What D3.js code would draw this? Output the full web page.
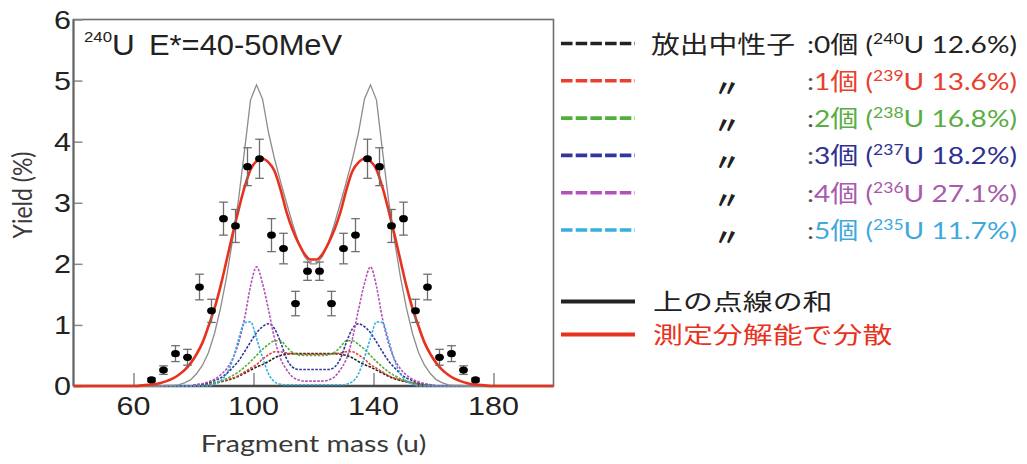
<!DOCTYPE html>
<html>
<head>
<meta charset="utf-8">
<script src="https://cdn.jsdelivr.net/npm/d3@7"></script>
<style>
  body { margin: 0; background: #fff; }
  svg { display: block; }
</style>
</head>
<body>
<div id="chart"></div>
<script>
/* Data */

// mass grid for the model curves (u)
var curveMass = [40,
    61, 63, 65, 67, 69, 71, 73, 75, 77, 79, 81, 83, 85, 87, 89, 91, 93, 95, 97, 99,
    101, 103, 105, 107, 109, 111, 113, 115, 117, 119, 121, 123, 125, 127, 129, 131, 133, 135, 137, 139,
    141, 143, 145, 147, 149, 151, 153, 155, 157, 159, 161, 163, 165, 167, 169, 171, 173, 175, 177, 179,
    200];

// emitted neutrons 0..5 (dotted curves)
var yield0n = [0,
    0, 0, 0, 0, 0, 0, 0, 0, 0, 0, 0.01, 0.02, 0.03, 0.05, 0.07, 0.09, 0.12, 0.16, 0.21, 0.26,
    0.31, 0.35, 0.4, 0.46, 0.5, 0.52, 0.53, 0.53, 0.53, 0.53, 0.53, 0.53, 0.53, 0.53, 0.52, 0.5, 0.46, 0.4, 0.35, 0.31,
    0.26, 0.21, 0.16, 0.12, 0.09, 0.07, 0.05, 0.03, 0.02, 0.01, 0, 0, 0, 0, 0, 0, 0, 0, 0, 0,
    0];
var yield1n = [0,
    0, 0, 0, 0, 0, 0, 0, 0, 0, 0, 0.01, 0.02, 0.03, 0.05, 0.07, 0.1, 0.13, 0.17, 0.23, 0.29,
    0.35, 0.44, 0.51, 0.56, 0.56, 0.54, 0.53, 0.52, 0.52, 0.52, 0.52, 0.52, 0.52, 0.53, 0.54, 0.56, 0.56, 0.51, 0.44, 0.35,
    0.29, 0.23, 0.17, 0.13, 0.1, 0.07, 0.05, 0.03, 0.02, 0.01, 0, 0, 0, 0, 0, 0, 0, 0, 0, 0,
    0];
var yield2n = [0,
    0, 0, 0, 0, 0, 0, 0, 0, 0, 0, 0.01, 0.02, 0.04, 0.06, 0.08, 0.12, 0.17, 0.23, 0.31, 0.4,
    0.5, 0.6, 0.68, 0.74, 0.74, 0.64, 0.55, 0.51, 0.5, 0.5, 0.5, 0.5, 0.51, 0.55, 0.64, 0.74, 0.74, 0.68, 0.6, 0.5,
    0.4, 0.31, 0.23, 0.17, 0.12, 0.08, 0.06, 0.04, 0.02, 0.01, 0, 0, 0, 0, 0, 0, 0, 0, 0, 0,
    0];
var yield3n = [0,
    0, 0, 0, 0, 0, 0, 0, 0, 0, 0, 0.02, 0.03, 0.05, 0.09, 0.13, 0.2, 0.3, 0.41, 0.56, 0.72,
    0.87, 0.97, 1.02, 0.94, 0.72, 0.45, 0.31, 0.27, 0.27, 0.27, 0.27, 0.27, 0.27, 0.31, 0.45, 0.72, 0.94, 1.02, 0.97, 0.87,
    0.72, 0.56, 0.41, 0.3, 0.2, 0.13, 0.09, 0.05, 0.03, 0.02, 0, 0, 0, 0, 0, 0, 0, 0, 0, 0,
    0];
var yield4n = [0,
    0, 0, 0, 0, 0, 0, 0, 0, 0, 0, 0.02, 0.04, 0.07, 0.11, 0.18, 0.28, 0.44, 0.7, 1.1, 1.63,
    1.95, 1.68, 1.25, 0.78, 0.45, 0.27, 0.15, 0.1, 0.08, 0.08, 0.08, 0.08, 0.1, 0.15, 0.27, 0.45, 0.78, 1.25, 1.68, 1.95,
    1.63, 1.1, 0.7, 0.44, 0.28, 0.18, 0.11, 0.07, 0.04, 0.02, 0, 0, 0, 0, 0, 0, 0, 0, 0, 0,
    0];
var yield5n = [0,
    0, 0, 0, 0, 0, 0, 0, 0, 0, 0, 0, 0, 0, 0.03, 0.08, 0.2, 0.42, 0.76, 1.04, 1.05,
    0.78, 0.47, 0.2, 0.07, 0.03, 0.02, 0.02, 0.02, 0.02, 0.02, 0.02, 0.02, 0.02, 0.02, 0.02, 0.03, 0.07, 0.2, 0.47, 0.78,
    1.05, 1.04, 0.76, 0.42, 0.2, 0.08, 0.03, 0, 0, 0, 0, 0, 0, 0, 0, 0, 0, 0, 0, 0,
    0];

// sum of the dotted curves, and the same sum smeared by the resolution
var yieldSum = [0,
    0, 0, 0, 0, 0, 0.01, 0.01, 0.02, 0.05, 0.1, 0.2, 0.34, 0.55, 0.86, 1.27, 1.78, 2.38, 3.05, 3.85, 4.68,
    4.93, 4.7, 4.15, 3.72, 3.35, 3.0, 2.66, 2.35, 2.12, 2.0, 2.0, 2.12, 2.35, 2.66, 3.0, 3.35, 3.72, 4.15, 4.7, 4.93,
    4.68, 3.85, 3.05, 2.38, 1.78, 1.27, 0.86, 0.55, 0.34, 0.2, 0.1, 0.05, 0.02, 0.01, 0.01, 0, 0, 0, 0, 0,
    0];
var yieldSmeared = [0,
    0, 0.01, 0.02, 0.03, 0.05, 0.08, 0.12, 0.18, 0.26, 0.37, 0.52, 0.71, 0.98, 1.27, 1.63, 2.05, 2.48, 2.88, 3.25, 3.54,
    3.68, 3.72, 3.66, 3.52, 3.22, 2.85, 2.56, 2.34, 2.16, 2.07, 2.07, 2.16, 2.34, 2.56, 2.85, 3.22, 3.52, 3.66, 3.72, 3.68,
    3.54, 3.25, 2.88, 2.48, 2.05, 1.63, 1.27, 0.98, 0.71, 0.52, 0.37, 0.26, 0.18, 0.12, 0.08, 0.05, 0.03, 0.02, 0.01, 0,
    0];

// measured points
var pointMass  = [66, 70, 74, 78, 82, 86, 90, 94, 98, 102, 106, 110, 114, 118,
                  122, 126, 130, 134, 138, 142, 146, 150, 154, 158, 162, 166, 170, 174];
var pointYield = [0.10, 0.26, 0.53, 0.47, 1.62, 1.23, 2.74, 2.62, 3.59, 3.72, 2.47, 2.25, 1.35, 1.88,
                  1.88, 1.35, 2.25, 2.47, 3.72, 3.59, 2.62, 2.74, 1.23, 1.62, 0.47, 0.53, 0.26, 0.10];
var pointError = [0.03, 0.07, 0.13, 0.13, 0.21, 0.19, 0.27, 0.27, 0.31, 0.32, 0.27, 0.25, 0.2, 0.15,
                  0.15, 0.2, 0.25, 0.27, 0.32, 0.31, 0.27, 0.27, 0.19, 0.21, 0.13, 0.13, 0.07, 0.03];

// axes
var xTicks = [60, 100, 140, 180];
var yTicks = [0, 1, 2, 3, 4, 5, 6];

// legend
var neutronCounts = ["0", "1", "2", "3", "4", "5"];
var isotopeMass   = ["240", "239", "238", "237", "236", "235"];
var isotopeShare  = ["12.6%", "13.6%", "16.8%", "18.2%", "27.1%", "11.7%"];

/* Styles */
var curveColors  = ["#222222", "#e8402c", "#4fb03a", "#33379c", "#b451b8", "#36aee0"];
var legendColors = ["#222222", "#e8402c", "#58ad44", "#2e3192", "#a95aab", "#3fa9dc"];
var redLine  = "#e8321e";
var grayLine = "#8c8c8c";

var width = 1027, height = 464;
var svg = d3.select("#chart").append("svg")
    .attr("width", width)
    .attr("height", height)
    .attr("viewBox", "0 0 " + width + " " + height);

var x = d3.scaleLinear().domain([40, 200]).range([73.5, 553.5]);
var y = d3.scaleLinear().domain([0, 6]).range([386, 19.5]);

// text with a horizontal stretch (the figure is widened)
function stretchText(parent, px, py, sx, str) {
    return parent.append("text")
        .attr("transform", "translate(" + px + "," + py + ") scale(" + sx + ",1)")
        .text(str);
}

/* Plot frame & ticks */
var plot = svg.append("g");

plot.append("rect")
    .attr("x", x(40)).attr("y", y(6))
    .attr("width", x(200) - x(40)).attr("height", y(0) - y(6))
    .attr("fill", "none").attr("stroke", "#6e6e6e").attr("stroke-width", 1.6);

var xAxis = plot.append("g")
    .attr("transform", "translate(0," + y(0) + ")")
    .call(d3.axisBottom(x).tickValues(xTicks).tickSize(-13).tickFormat(""));
xAxis.select(".domain").remove();
xAxis.selectAll(".tick line").attr("stroke", "#8a8a8a").attr("stroke-width", 1.5);

var yAxis = plot.append("g")
    .attr("transform", "translate(" + x(40) + ",0)")
    .call(d3.axisLeft(y).tickValues(yTicks).tickSize(-9).tickFormat(""));
yAxis.select(".domain").remove();
yAxis.selectAll(".tick line").attr("stroke", "#8a8a8a").attr("stroke-width", 1.5);

plot.append("line")
    .attr("x1", x(40)).attr("x2", x(200)).attr("y1", y(0)).attr("y2", y(0))
    .attr("stroke", "#4a4a4a").attr("stroke-width", 2.4);
plot.append("line")
    .attr("x1", x(40)).attr("x2", x(40)).attr("y1", y(0)).attr("y2", y(6))
    .attr("stroke", "#666").attr("stroke-width", 2);

// tick labels
xTicks.forEach(function (t) {
    stretchText(plot, x(t), 415, 1.22, t)
        .attr("text-anchor", "middle")
        .attr("font-family", "Liberation Sans, Arial, sans-serif")
        .attr("font-size", 25).attr("fill", "#222");
});
yTicks.forEach(function (t) {
    stretchText(plot, 71, y(t) + 9, 1.22, t)
        .attr("text-anchor", "end")
        .attr("font-family", "Liberation Sans, Arial, sans-serif")
        .attr("font-size", 25).attr("fill", "#222");
});

// axis titles
stretchText(svg, x(120), 452, 1.24, "Fragment mass (u)")
    .attr("text-anchor", "middle")
    .attr("font-family", "Lato, Noto Sans, sans-serif")
    .attr("font-size", 23).attr("fill", "#3a3a3a");
svg.append("text")
    .attr("transform", "translate(32,195) scale(1.2,1) rotate(-90)")
    .attr("text-anchor", "middle")
    .attr("font-family", "Lato, Noto Sans, sans-serif")
    .attr("font-size", 23).attr("fill", "#3a3a3a")
    .text("Yield (%)");

// annotation
stretchText(svg, 84, 42, 1.12, "240")
    .attr("font-family", "Liberation Sans, Arial, sans-serif")
    .attr("font-size", 15).attr("fill", "#222");
stretchText(svg, 112, 55, 1.05, "U")
    .attr("font-family", "Liberation Sans, Arial, sans-serif")
    .attr("font-size", 30).attr("fill", "#222");
stretchText(svg, 149, 55, 1.03, "E*=40-50MeV")
    .attr("font-family", "Liberation Sans, Arial, sans-serif")
    .attr("font-size", 30).attr("fill", "#222");

/* Curves */
var neutronSeries = [yield0n, yield1n, yield2n, yield3n, yield4n, yield5n];

var smooth = d3.line()
    .x(function (d) { return x(d[0]); })
    .y(function (d) { return y(d[1]); })
    .curve(d3.curveMonotoneX);
var straight = d3.line()
    .x(function (d) { return x(d[0]); })
    .y(function (d) { return y(d[1]); });

function pairs(values) {
    return curveMass.map(function (m, i) { return [m, values[i]]; });
}

var curves = svg.append("g").attr("fill", "none");

neutronSeries.forEach(function (series, i) {
    curves.append("path")
        .attr("d", smooth(pairs(series)))
        .attr("stroke", curveColors[i])
        .attr("stroke-width", 1.6)
        .attr("stroke-dasharray", "2.6,1.4");
});

curves.append("path")
    .attr("d", straight(pairs(yieldSum)))
    .attr("stroke", grayLine)
    .attr("stroke-width", 1.3);

curves.append("path")
    .attr("d", smooth(pairs(yieldSmeared)))
    .attr("stroke", redLine)
    .attr("stroke-width", 2.6);

/* Measured points */
var points = svg.append("g");
pointMass.forEach(function (m, i) {
    var cx = x(m), v = pointYield[i], e = pointError[i];
    var bar = points.append("g").attr("stroke", "#6f6f6f").attr("stroke-width", 1.3);
    bar.append("line").attr("x1", cx).attr("x2", cx).attr("y1", y(v - e)).attr("y2", y(v + e));
    bar.append("line").attr("x1", cx - 4.3).attr("x2", cx + 4.3).attr("y1", y(v - e)).attr("y2", y(v - e));
    bar.append("line").attr("x1", cx - 4.3).attr("x2", cx + 4.3).attr("y1", y(v + e)).attr("y2", y(v + e));
    points.append("ellipse")
        .attr("cx", cx).attr("cy", y(v))
        .attr("rx", 4.4).attr("ry", 3.6)
        .attr("fill", "#000");
});

/* Legend */
var legend = svg.append("g");
var rowY0 = 43.5, rowStep = 37.3;

neutronCounts.forEach(function (n, i) {
    var cy = rowY0 + i * rowStep;
    legend.append("line")
        .attr("x1", 561).attr("x2", 635).attr("y1", cy).attr("y2", cy)
        .attr("stroke", curveColors[i]).attr("stroke-width", 3.6)
        .attr("stroke-dasharray", "11.5,3.2");

    if (i === 0) {
        stretchText(legend, 651, cy + 9, 1.2, "放出中性子")
            .attr("font-family", "Noto Sans CJK JP, sans-serif")
            .attr("font-size", 24).attr("fill", "#222");
    } else {
        stretchText(legend, 727, cy + 16, 1.1, "〃")
            .attr("text-anchor", "middle")
            .attr("font-family", "Noto Sans CJK JP, sans-serif")
            .attr("font-weight", "bold")
            .attr("font-size", 24).attr("fill", "#222");
    }

    var t = stretchText(legend, 807, cy + 9, 1.17, "")
        .attr("font-family", "Lato, Noto Sans CJK JP, sans-serif")
        .attr("font-size", 24);
    t.append("tspan").attr("fill", i === 0 ? "#222" : "#555").text(":");
    t.append("tspan").attr("fill", legendColors[i]).text(n + "個 (");
    t.append("tspan").attr("fill", legendColors[i]).attr("font-size", 15).attr("dy", -9).text(isotopeMass[i]);
    t.append("tspan").attr("fill", legendColors[i]).attr("dy", 9).text("U " + isotopeShare[i] + ")");
});

// solid lines
var solidRows = [
    {label: "上の点線の和", color: "#222222", text: "#222", cy: 301.5},
    {label: "測定分解能で分散", color: redLine, text: redLine, cy: 334.5}
];
solidRows.forEach(function (r) {
    legend.append("line")
        .attr("x1", 561).attr("x2", 635).attr("y1", r.cy).attr("y2", r.cy)
        .attr("stroke", r.color).attr("stroke-width", 3.8);
    stretchText(legend, 653, r.cy + 8.5, 1.33, r.label)
        .attr("font-family", "Noto Sans CJK JP, sans-serif")
        .attr("font-size", 22.5).attr("fill", r.text);
});
</script>
</body>
</html>
